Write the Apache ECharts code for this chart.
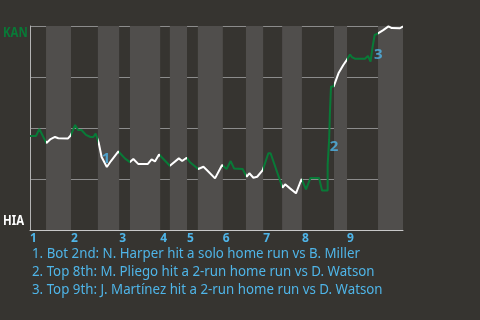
<!DOCTYPE html>
<html><head><meta charset="utf-8">
<script src="https://cdn.jsdelivr.net/npm/echarts@6/dist/echarts.min.js"></script>
<style>html,body{margin:0;padding:0;background:#363430;}#c{width:480px;height:320px;}</style>
</head><body><div id="c"></div>
<script>
// game progress (0..100) and KAN win probability (%)
const progress = [0,1.6,2.5,4.4,5.4,6.7,7.6,10.2,10.9,12.1,12.9,13.8,15.0,16.2,17.0,17.6,18.4,19.2,20.6,21.7,23.7,25.5,26.8,27.7,29.0,31.6,32.6,33.5,34.6,37.5,39.9,40.8,42.0,42.9,45.1,46.5,47.4,49.6,51.5,52.7,53.8,54.7,57.0,58.1,58.8,59.9,60.9,62.4,63.9,64.5,67.7,68.4,69.7,71.3,72.8,74.0,75.2,77.5,78.3,79.8,79.8,80.2,80.2,80.4,80.4,80.7,81.4,81.8,82.7,84.0,84.9,85.8,86.3,87.1,89.8,90.6,91.3,91.8,92.4,93.3,94.7,96.1,97.0,99.2,100];
const kanWinPct = [46.1,46.1,49.5,42.6,44.4,45.6,45.0,44.9,46.3,51.5,49.0,49.0,46.6,45.6,45.6,47.3,42.9,35.8,30.9,33.8,38.5,35.0,33.3,34.8,32.4,32.4,34.6,33.6,37.0,31.5,35.1,33.8,35.4,33.2,29.9,31.0,29.4,25.3,31.9,29.9,33.8,30.2,29.9,26.1,27.8,25.6,26.1,29.4,37.6,37.6,20.7,22.4,20.4,18.0,25.0,19.9,25.5,25.5,19.4,19.4,31.9,31.9,44.4,44.4,57.2,70.3,70.3,69.5,76.8,80.9,83.3,86.0,84.8,84.0,84.0,85.3,82.6,89.2,95.6,96.4,98.0,99.8,99.0,98.9,99.8];
// half-inning boundaries on the progress scale (top 1st, bot 1st, top 2nd, ...)
const halfInningEdges = [0,4.3,11.0,18.2,23.9,26.8,34.9,37.5,42.1,45.0,51.7,57.9,62.5,67.6,72.9,81.5,85.0,93.3,100];
const inningLabels = ['1','2','3','4','5','6','7','8','9'];
// key events: [progress, win %], label
const eventPoints = [[20.4,34.7],[81.5,40.7],[93.4,85.8]];
const eventMarks = ['1','2','3'];
const eventNotes = [
  '1. Bot 2nd: N. Harper hit a solo home run vs B. Miller',
  '2. Top 8th: M. Pliego hit a 2-run home run vs D. Watson',
  '3. Top 9th: J. Martínez hit a 2-run home run vs D. Watson'
];
const teamTop = 'KAN', teamBottom = 'HIA';

const GREEN = '#087a37', WHITE = '#ffffff', BLUE = '#4fb5e8', BAND = '#504e4c';
const FONT = '"Noto Sans", sans-serif';

const inningStarts = inningLabels.map((_, i) => halfInningEdges[2 * i]);
const bands = [];
for (let i = 1; i < halfInningEdges.length - 1; i += 2) {
  bands.push([{ xAxis: halfInningEdges[i] }, { xAxis: halfInningEdges[i + 1] }]);
}
const pieces = [];
for (let i = 0; i < halfInningEdges.length - 1; i++) {
  const p = { gte: halfInningEdges[i], color: i % 2 === 0 ? GREEN : WHITE };
  if (i === halfInningEdges.length - 2) p.lte = halfInningEdges[i + 1]; else p.lt = halfInningEdges[i + 1];
  pieces.push(p);
}

const chart = echarts.init(document.getElementById('c'), null, { renderer: 'canvas' });
chart.setOption({
  backgroundColor: '#363430',
  animation: false,
  grid: { left: 30, right: 77, top: 26, bottom: 90 },
  xAxis: {
    type: 'value', min: 0, max: 100,
    splitLine: { show: false },
    axisTick: { show: false },
    axisLine: { show: true, lineStyle: { color: '#c8c8c8', width: 1 } },
    axisLabel: {
      customValues: inningStarts,
      align: 'left', margin: 3,
      color: BLUE, fontSize: 12, fontWeight: 'bold', fontFamily: FONT,
      formatter: v => {
        let best = 0;
        inningStarts.forEach((s, i) => { if (Math.abs(s - v) < Math.abs(inningStarts[best] - v)) best = i; });
        return inningLabels[best];
      }
    }
  },
  yAxis: {
    type: 'value', min: 0, max: 100, interval: 25,
    axisLabel: { show: false }, axisTick: { show: false },
    axisLine: { show: true, lineStyle: { color: '#b4b4b4', width: 1 } },
    splitLine: { show: true, lineStyle: { color: '#8c8c8c', width: 1 } }
  },
  visualMap: { show: false, type: 'piecewise', seriesIndex: 1, dimension: 0, pieces: pieces },
  series: [
    {
      type: 'line', data: [], z: 0, zlevel: 0,
      markArea: { silent: true, itemStyle: { color: BAND }, data: bands }
    },
    {
      type: 'line', data: progress.map((x, i) => [x, kanWinPct[i]]),
      symbol: 'none', lineStyle: { width: 2 }, z: 3
    },
    {
      type: 'scatter', data: eventPoints, symbolSize: 1,
      itemStyle: { color: 'transparent' },
      label: {
        show: true, position: 'inside',
        formatter: p => eventMarks[p.dataIndex],
        color: BLUE, fontSize: 15, fontWeight: 'bold', fontFamily: FONT
      },
      z: 5
    }
  ],
  graphic: [
    { type: 'text', x: 3, y: 33, scaleX: 0.76, style: { text: teamTop, fill: GREEN, font: 'bold 15px ' + FONT, verticalAlign: 'middle' } },
    { type: 'text', x: 3, y: 221, scaleX: 0.76, style: { text: teamBottom, fill: WHITE, font: 'bold 15px ' + FONT, verticalAlign: 'middle' } }
  ].concat(eventNotes.map((t, i) => ({
    type: 'text', x: 32, y: 254 + 18 * i, scaleX: 0.95,
    style: { text: t, fill: BLUE, font: '14px ' + FONT, verticalAlign: 'middle' }
  })))
});
</script></body></html>
